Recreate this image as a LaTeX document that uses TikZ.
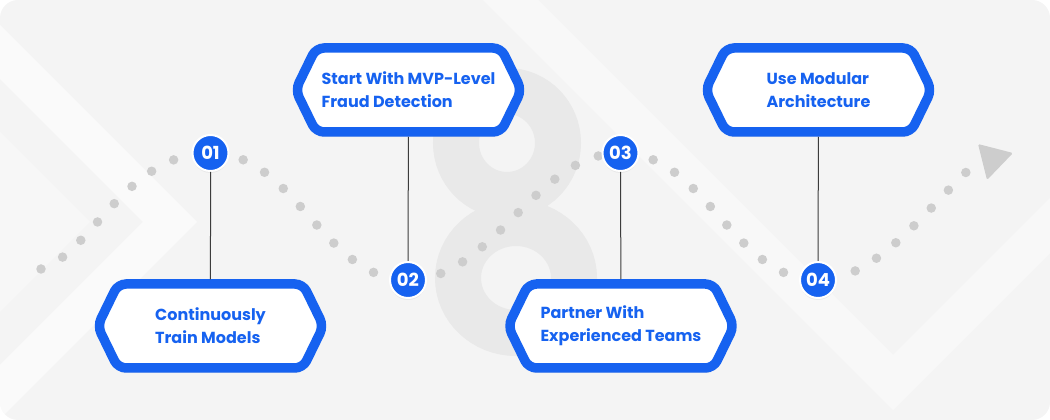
\documentclass[tikz,border=0pt]{standalone}
\usepackage{fontspec}
\setmainfont{Poppins}
\usetikzlibrary{shapes.symbols,shadows}
\definecolor{brandblue}{RGB}{22,98,240}
\definecolor{bgcol}{RGB}{244,244,244}
\definecolor{dotcol}{RGB}{205,205,205}
\definecolor{logocol}{RGB}{233,233,233}
\definecolor{stemcol}{RGB}{60,60,60}
\tikzset{
  hexbox/.style={signal, signal to=west and east, signal pointer angle=128,
    draw=brandblue, line width=9.5pt, fill=white, rounded corners=8pt,
    minimum width=226pt, minimum height=84pt, inner sep=0pt,
    align=left, text=brandblue, font=\bfseries\fontsize{16}{23}\selectfont,
    drop shadow={opacity=0.12, shadow xshift=0pt, shadow yshift=-5pt}},
  stepdot/.style={circle, fill=brandblue, draw=white, line width=2pt,
    minimum size=36pt, inner sep=0pt, text=white,
    font=\bfseries\fontsize{18}{18}\selectfont,
    drop shadow={opacity=0.10, shadow xshift=0pt, shadow yshift=-2pt}},
  dotpath/.style={dotcol, line width=9.5pt, line cap=round,
    dash pattern=on 0pt off 24.8pt},
  stem/.style={stemcol, line width=1pt}
}
\begin{document}
\begin{tikzpicture}[x=1pt,y=1pt]
  \useasboundingbox (0,0) rectangle (1050,420);
  % backdrop with faint chevrons
  \begin{scope}
    \clip[rounded corners=18pt] (0,0) rectangle (1050,420);
    \fill[bgcol] (0,0) rectangle (1050,420);
    \fill[white, opacity=0.35] (90,198) -- (-132,420) -- (-200,420) -- (-200,-24) -- (-132,-24) -- cycle;
    \fill[white, opacity=0.6] (143,198) -- (-79,420) -- (-25,420) -- (197,198) -- (-25,-24) -- (-79,-24) -- cycle;
    \fill[white, opacity=0.45] (893,10) -- (1303,420) -- (1248,420) -- (893,65) -- (538,420) -- (483,420) -- cycle;
    % big faint logo
    \draw[logocol, line width=46pt] (507,277) ellipse [x radius=51, y radius=52];
    \draw[logocol, line width=46pt] (516,142) ellipse [x radius=58, y radius=55];
  \end{scope}
  % step positions
  \coordinate (P0) at (41,151);
  \coordinate (P1) at (210.5,267);
  \coordinate (P2) at (408,140);
  \coordinate (P3) at (620.5,267);
  \coordinate (P4) at (818,140);
  \coordinate (P5) at (977,258);
  % dotted route
  \draw[dotpath] (P0) .. controls +(50,15) and +(-85,0) .. (P1);
  \draw[dotpath, dash phase=16pt] (P1) .. controls +(85,0) and +(-85,0) .. (P2);
  \draw[dotpath, dash phase=16pt] (P2) .. controls +(85,0) and +(-85,0) .. (P3);
  \draw[dotpath, dash phase=16pt] (P3) .. controls +(85,0) and +(-85,0) .. (P4);
  \draw[dotpath, dash phase=11pt] (P4) .. controls +(60,0) and +(-50,-45) .. (P5);
  \fill[dotcol, rounded corners=1.5pt] (978,276) -- (1013,267) -- (987,240) -- cycle;
  % boxes
  \node[hexbox] (B1) at (210.5,94) {Continuously\\Train Models};
  \node[hexbox] (B2) at (408.5,330) {Start With MVP-Level\\Fraud Detection};
  \node[hexbox] (B3) at (621,94) {Partner With\\Experienced Teams};
  \node[hexbox] (B4) at (818.5,330) {Use Modular\\Architecture};
  % numbered steps
  \node[stepdot] (N1) at (P1) {01};
  \node[stepdot] (N2) at (P2) {02};
  \node[stepdot] (N3) at (P3) {03};
  \node[stepdot] (N4) at (P4) {04};
  % stems
  \draw[stem] (N1) -- (B1);
  \draw[stem] (N2) -- (B2);
  \draw[stem] (N3) -- (B3);
  \draw[stem] (N4) -- (B4);
\end{tikzpicture}
\end{document}
